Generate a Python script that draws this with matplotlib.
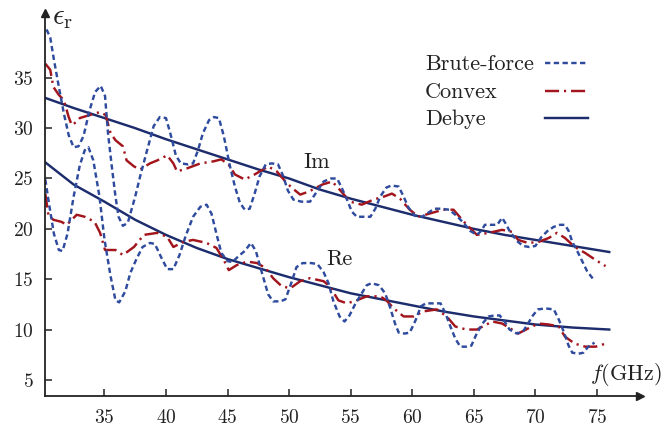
import matplotlib
matplotlib.use("Agg")
import matplotlib.pyplot as plt

plt.rcParams['font.family'] = ['cmr10', 'DejaVu Serif']
plt.rcParams['mathtext.fontset'] = 'cm'
plt.rcParams['axes.formatter.use_mathtext'] = True

# imaginary part, brute-force
im_bf_x = [30.3, 30.6, 30.9, 31.3, 31.7, 32.1, 32.5, 32.9, 33.3, 33.8, 34.25, 34.7, 35.05, 35.3,
           35.6, 35.9, 36.15, 36.5, 36.9, 37.5, 37.9, 38.4, 39.0, 39.5, 40.0, 40.35, 40.8, 41.2,
           41.8, 42.2, 42.6, 43.0, 43.5, 43.9, 44.3, 44.7, 45.2, 45.6, 46.0, 46.4, 46.8, 47.2,
           47.6, 48.1, 48.6, 49.1, 49.5, 49.9, 50.35, 51.0, 51.7, 52.2, 52.8, 53.4, 53.9, 54.3,
           54.7, 55.1, 55.5, 56.0, 56.6, 57.0, 57.4, 57.9, 58.3, 58.9, 59.3, 59.7, 60.2, 60.8,
           61.3, 61.8, 62.3, 63.0, 63.6, 64.2, 64.7, 65.25, 65.6, 65.9, 66.4, 66.9, 67.3, 67.6,
           67.9, 68.5, 69.0, 69.5, 70.0, 70.5, 71.0, 71.5, 72.0, 72.4, 72.7, 73.0, 73.4, 73.8,
           74.2, 74.7]
im_bf_y = [39.8, 39.0, 36.8, 34.1, 31.5, 29.3, 28.1, 28.2, 29.2, 31.8, 33.6, 34.2, 33.2, 29.4,
           26.2, 23.2, 21.2, 20.3, 20.6, 23.2, 25.2, 27.5, 30.2, 31.1, 31.0, 29.5, 27.3, 26.5,
           26.4, 26.5, 27.8, 29.5, 30.8, 31.1, 31.0, 29.2, 26.2, 24.2, 22.6, 21.9, 22.0, 23.5,
           25.2, 26.4, 26.5, 26.4, 25.3, 23.8, 22.9, 22.7, 22.7, 23.6, 24.7, 25.0, 25.0, 24.0,
           22.9, 21.7, 21.2, 21.2, 21.2, 22.0, 23.2, 24.1, 24.3, 24.2, 23.2, 22.1, 21.3, 21.2,
           21.6, 22.0, 22.0, 21.9, 21.3, 20.55, 19.8, 19.4, 19.8, 20.4, 20.4, 20.4, 21.1, 20.5,
           19.8, 18.8, 18.3, 18.2, 18.3, 19.2, 19.8, 20.2, 20.4, 20.4, 19.8, 18.7, 17.8, 16.8,
           15.8, 15.0]

# real part, brute-force
re_bf_x = [30.2, 30.5, 30.9, 31.3, 31.6, 32.0, 32.5, 33.0, 33.4, 33.7, 34.1, 34.6, 35.0, 35.5,
           35.9, 36.2, 36.7, 37.1, 37.6, 38.1, 38.7, 39.1, 39.6, 40.1, 40.6, 41.1, 41.6, 42.2,
           42.8, 43.3, 43.7, 44.1, 44.5, 45.0, 45.4, 45.9, 46.4, 46.9, 47.3, 47.8, 48.3, 48.7,
           49.3, 49.7, 50.2, 50.6, 51.1, 51.8, 52.3, 52.8, 53.2, 53.6, 54.1, 54.5, 54.9, 55.4,
           55.8, 56.3, 56.7, 57.3, 57.8, 58.2, 58.6, 58.9, 59.4, 59.8, 60.3, 60.7, 61.1, 61.7,
           62.3, 62.7, 63.1, 63.5, 63.9, 64.4, 64.8, 65.2, 65.7, 66.2, 66.7, 67.1, 67.5, 67.9,
           68.5, 69.0, 69.4, 69.8, 70.2, 70.8, 71.5, 71.9, 72.3, 72.7, 73.0, 73.5, 73.9, 74.3,
           74.8]
re_bf_y = [24.9, 22.5, 19.5, 17.9, 17.8, 19.5, 23.2, 26.3, 27.8, 28.1, 26.8, 23.2, 19.0, 15.3,
           12.9, 12.7, 13.8, 15.6, 17.0, 18.2, 18.6, 18.5, 17.2, 16.0, 16.0, 17.4, 19.3, 21.2,
           22.2, 22.4, 21.5, 19.5, 17.6, 16.8, 16.7, 17.3, 17.8, 18.6, 17.8, 15.6, 13.5, 12.8,
           12.8, 13.0, 14.7, 16.2, 16.6, 16.6, 16.5, 15.7, 14.6, 12.8, 11.3, 10.8, 11.4, 12.6,
           13.4, 14.4, 14.6, 14.4, 13.6, 12.2, 10.6, 9.7, 9.6, 9.7, 11.0, 12.3, 12.6, 12.6,
           12.6, 11.6, 10.3, 9.1, 8.3, 8.3, 8.4, 9.5, 10.6, 11.3, 11.4, 11.4, 10.8, 10.0,
           9.6, 9.8, 10.6, 11.4, 12.0, 12.1, 12.0, 11.0, 9.8, 8.4, 7.7, 7.6, 7.7, 8.3,
           8.7]

# imaginary part, convex
im_cv_x = [30.2, 30.6, 30.85, 31.3, 31.7, 32.1, 32.35, 32.7, 33.0, 33.8, 34.65, 35.1, 35.5, 35.9,
           36.5, 36.8, 37.4, 37.9, 38.7, 39.3, 40.1, 40.6, 40.9, 41.7, 42.8, 43.85, 44.5, 45.1,
           45.6, 46.4, 47.2, 48.3, 49.0, 49.7, 50.2, 50.9, 51.6, 52.7, 53.5, 54.1, 54.95, 55.9,
           56.85, 57.7, 58.35, 59.0, 59.8, 60.5, 61.5, 62.5, 63.35, 64.2, 65.25, 66.2, 67.3, 68.1,
           68.6, 69.4, 70.25, 71.1, 71.75, 72.4, 73.2, 74.05, 74.9, 75.7]
im_cv_y = [36.4, 35.8, 34.1, 33.3, 32.8, 31.1, 30.3, 30.6, 31.0, 31.3, 31.6, 31.3, 29.5, 28.8,
           28.2, 26.8, 26.2, 25.9, 26.5, 26.8, 27.3, 26.5, 25.7, 26.0, 26.5, 26.7, 26.9, 26.35,
           25.4, 24.9, 25.4, 26.2, 25.7, 24.7, 24.1, 23.4, 23.7, 24.4, 24.7, 23.9, 22.7, 22.4,
           22.9, 23.2, 23.5, 23.0, 21.9, 21.2, 21.55, 21.9, 21.9, 20.7, 19.4, 19.6, 19.9, 19.7,
           18.9, 18.6, 18.7, 19.1, 19.6, 19.1, 18.2, 17.6, 16.9, 16.3]

# real part, convex
re_cv_x = [30.2, 30.45, 30.85, 31.5, 31.95, 32.75, 33.4, 34.2, 34.65, 35.05, 35.9, 36.5, 37.4, 38.2,
           39.3, 40.1, 40.6, 41.4, 42.2, 43.3, 44.1, 44.7, 45.1, 45.75, 46.6, 47.4, 48.1, 48.7,
           49.4, 50.1, 50.9, 51.7, 52.8, 53.3, 54.0, 54.7, 55.5, 56.3, 57.4, 57.9, 58.5, 59.3,
           60.1, 60.9, 62.0, 62.8, 63.5, 64.4, 65.25, 66.5, 67.3, 68.1, 68.6, 69.4, 70.25, 71.1,
           71.9, 72.4, 73.2, 74.05, 74.9, 75.7]
re_cv_y = [23.5, 21.4, 20.9, 20.7, 20.4, 21.4, 21.2, 20.7, 19.6, 17.9, 17.9, 17.4, 18.2, 19.4,
           19.6, 19.2, 18.2, 18.7, 18.9, 18.6, 18.1, 16.9, 15.9, 16.4, 16.75, 16.6, 16.1, 15.1,
           14.3, 14.1, 14.8, 15.1, 14.8, 14.3, 12.9, 12.6, 12.9, 13.3, 13.3, 12.9, 12.1, 11.3,
           11.3, 11.8, 12.0, 11.3, 10.3, 10.0, 10.0, 10.8, 10.6, 10.0, 9.6, 10.1, 10.6, 10.5,
           10.3, 9.3, 8.6, 8.3, 8.3, 8.6]

# Debye model
db_x = [30.2, 32.5, 35, 37.5, 40, 42.5, 45, 47.5, 50, 52.5, 55, 57.5, 60, 62.5, 65, 67.5, 70, 73, 76]
db_im = [33.0, 32.0, 31.0, 30.0, 28.9, 27.9, 26.9, 25.9, 25.0, 23.9, 23.0, 22.2, 21.4, 20.7,
         20.0, 19.4, 18.9, 18.3, 17.7]
db_re = [26.6, 24.4, 22.7, 20.9, 19.4, 18.1, 17.0, 16.1, 15.2, 14.4, 13.6, 13.0, 12.4, 11.8,
         11.3, 10.9, 10.5, 10.2, 10.0]

blue = '#2f4b9e'
red = '#a3151c'
navy = '#1c2c6c'
bf_style = (0, (2.2, 1.4))
cv_style = (0, (5.8, 2.0, 0.9, 2.0))
lw = 1.75

fig = plt.figure(figsize=(6.64, 4.29), dpi=100)
ax = fig.add_axes([0.0673, 0.0769, 0.8966, 0.892])

ax.plot(db_x, db_im, color=navy, lw=lw)
ax.plot(db_x, db_re, color=navy, lw=lw)
ax.plot(im_cv_x, im_cv_y, color=red, lw=lw, ls=cv_style)
ax.plot(re_cv_x, re_cv_y, color=red, lw=lw, ls=cv_style)
ax.plot(im_bf_x, im_bf_y, color=blue, lw=lw, ls=bf_style)
ax.plot(re_bf_x, re_bf_y, color=blue, lw=lw, ls=bf_style)

ax.set_xlim(30.15, 78.5)
ax.set_ylim(3.4, 41.4)
ax.set_xticks([35, 40, 45, 50, 55, 60, 65, 70, 75])
ax.set_yticks([5, 10, 15, 20, 25, 30, 35])
ax.tick_params(direction='in', length=5, width=1.1, labelsize=14, colors='#222222')
ax.tick_params(axis='x', pad=9.5)
ax.tick_params(axis='y', pad=8)
for s in ['top', 'right']:
    ax.spines[s].set_visible(False)
for s in ['left', 'bottom']:
    ax.spines[s].set_linewidth(1.3)
    ax.spines[s].set_color('#222222')

# axis arrows
ax.plot(1, 0, '>', color='#222222', ms=6, transform=ax.transAxes, clip_on=False)
ax.plot(0, 1, '^', color='#222222', ms=6, transform=ax.transAxes, clip_on=False)

ax.text(51.15, 26.0, 'Im', fontsize=16, color='#222222', ha='left', va='baseline')
ax.text(53.0, 16.4, 'Re', fontsize=16, color='#222222', ha='left', va='baseline')

fig.text(0.079, 0.943, r'$\epsilon_{\rm r}$', fontsize=21, color='#222222', va='baseline')
fig.text(662 / 664, 1 - 380 / 429, r'$f$(GHz)', fontsize=16, color='#222222',
         ha='right', va='baseline')

# legend drawn by hand: text left, sample line right
leg = [('Brute-force', blue, bf_style, 0.8518, 0.871),
       ('Convex', red, cv_style, 0.7787, 0.797),
       ('Debye', navy, '-', 0.7081, 0.726)]
for name, c, ls, ty, ly in leg:
    ax.text(0.6387, ty, name, fontsize=16, color='#222222', transform=ax.transAxes,
            va='baseline')
    ax.plot([0.8404, 0.9127], [ly, ly], color=c, ls=ls, lw=lw, transform=ax.transAxes,
            clip_on=False)

fig.savefig('out.png', dpi=100)
plt.close(fig)
